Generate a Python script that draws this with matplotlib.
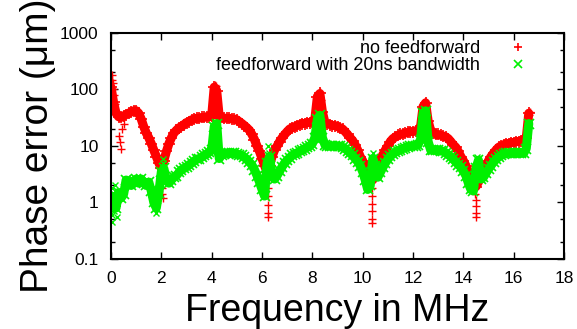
import numpy as np
import matplotlib
matplotlib.use("Agg")
import matplotlib.pyplot as plt
from matplotlib.ticker import LogLocator, FixedLocator, NullFormatter

plt.rcParams['font.family'] = ['Liberation Sans', 'DejaVu Sans']

# frequency grid of the sweep, MHz
freq = np.round(np.arange(0, 167) * 0.1, 1)

# phase error without feedforward, um
err_no_ff = [
    110, 60, 38, 33, 32, 34, 36, 38, 40, 42,
    42, 38, 30, 22, 17, 14, 11, 8.5, 6.5, 5.0,
    4.0, 5.5, 8, 11, 14, 17, 19, 21, 22, 24,
    26, 27, 29, 30, 31, 31, 32, 32, 33, 33,
    34, 110, 95, 33, 32, 31, 31, 31, 30, 30,
    29, 27, 25, 23, 21, 19, 16, 13, 10, 8,
    6, 4.5, 3.5, 4.5, 6.5, 8.5, 10, 12, 14, 16,
    18, 20, 21, 22, 23, 24, 25, 25, 26, 26,
    27, 30, 75, 85, 40, 26, 25, 24, 23, 23,
    22, 21, 20, 18, 16, 14, 12.5, 10.5, 8.5, 6.5,
    5.5, 4.2, 3.3, 2.6, 2.5, 3.5, 4.5, 5.8, 7, 8.5,
    10, 12, 13.5, 14.5, 15.5, 16, 16.5, 17, 17.5, 18,
    18, 18.5, 19, 22, 50, 58, 28, 19, 17, 16,
    16, 15.5, 15, 14.5, 13.5, 12, 10.5, 9.5, 8, 6.5,
    5.5, 4.5, 3.5, 2.8, 2.2, 1.9, 2.3, 3, 3.7, 4.5,
    5.5, 6.5, 7.5, 8.5, 9.5, 10, 10.5, 11, 11, 11.5,
    11.5, 12, 12, 12.5, 13, 14, 38,
]

# phase error with 20ns feedforward, um
err_ff = [
    0.9, 1.2, 0.8, 1.5, 1.2, 1.4, 2.5, 2.2, 2.0, 2.4,
    2.6, 2.2, 2.6, 2.2, 2.0, 2.3, 1.6, 1.0, 0.8, 1.5,
    3.5, 4.0, 2.5, 2.2, 2.5, 2.8, 3.0, 3.4, 3.8, 4.0,
    4.3, 4.6, 5.0, 5.4, 5.8, 6.0, 6.3, 6.8, 7.2, 7.8,
    8.5, 22, 25, 6, 7, 7.3, 7.5, 7.5, 7.5, 7.4,
    7.2, 7.0, 6.8, 6.3, 5.8, 5.2, 4.6, 3.8, 3.0, 2.3,
    1.7, 1.3, 5, 6.5, 3.0, 2.6, 3.0, 3.6, 4.3, 5.0,
    5.6, 6.2, 6.8, 7.2, 7.6, 8.0, 8.5, 9.0, 9.5, 10,
    11, 14, 30, 35, 14, 10.5, 10, 10, 10, 10,
    10, 9.8, 9.5, 9.0, 8.3, 7.5, 6.8, 6.0, 5.3, 4.5,
    3.5, 2.5, 1.7, 2.0, 6.0, 4.5, 2.8, 3.4, 4.2, 5.0,
    5.8, 6.6, 7.2, 7.8, 8.2, 8.6, 9.0, 9.4, 9.7, 10,
    10, 10.2, 10.5, 13, 38, 42, 12, 8.5, 8.5, 8.5,
    8.5, 8.3, 8.0, 7.6, 7.0, 6.5, 5.8, 5.2, 4.7, 4.2,
    3.6, 3.0, 2.2, 1.7, 1.6, 4.0, 5.6, 2.6, 2.8, 3.3,
    3.9, 4.5, 5.2, 5.8, 6.4, 6.8, 7.2, 7.4, 7.5, 7.5,
    7.6, 7.6, 7.5, 7.4, 7.5, 9, 25,
]

# spikes, drop-outs and scatter that sit off the main trace
extra_no_ff_f = [0.02, 0.04, 0.06, 0.08, 0.12, 0.15, 0.3, 0.35, 0.4, 0.45, 0.5,
                 2.0, 2.02, 2.02, 2.04, 2.05,
                 4.08, 4.1, 4.12, 4.14, 4.16, 4.18, 4.22, 4.25,
                 6.2, 6.22, 6.22, 6.22, 6.22, 6.24,
                 8.22, 8.25, 8.28, 8.32, 8.35, 8.38,
                 10.36, 10.37, 10.37, 10.37, 10.38, 10.38,
                 12.38, 12.42, 12.46, 12.5, 12.54,
                 14.48, 14.5, 14.5, 14.5, 14.52,
                 16.55, 16.58, 16.62, 16.65]
extra_no_ff_v = [180, 150, 130, 100, 80, 55, 15, 12, 9, 20, 25,
                 3, 2.3, 1.8, 1.4, 1.2,
                 45, 70, 95, 120, 115, 80, 55, 40,
                 2.5, 1.8, 1.3, 0.9, 0.65, 0.55,
                 40, 60, 80, 90, 65, 35,
                 1.8, 1.3, 0.95, 0.7, 0.52, 0.43,
                 30, 45, 60, 50, 30,
                 1.4, 1.1, 0.85, 0.65, 0.55,
                 25, 30, 35, 40]
extra_ff_f = [0.02, 0.03, 0.05, 0.07, 0.1, 0.15, 0.2, 0.25,
              1.8, 1.75, 2.05, 2.08,
              4.08, 4.1, 4.12, 4.14, 4.16, 4.18,
              6.25, 6.28,
              8.22, 8.25, 8.28, 8.32, 8.35,
              10.42, 10.45,
              12.4, 12.42, 12.45, 12.48, 12.52,
              14.55, 14.6,
              16.5, 16.55, 16.58, 16.62]
extra_ff_v = [0.45, 1.8, 0.6, 1.5, 0.7, 2.0, 1.0, 0.55,
              0.65, 1.1, 5, 6,
              10, 14, 18, 26, 20, 12,
              10, 7.5,
              15, 22, 30, 28, 18,
              7.5, 5,
              18, 25, 35, 30, 16,
              6.5, 4.5,
              12, 16, 20, 24]

fig = plt.figure(figsize=(5.77, 3.29), dpi=100)
ax = fig.add_axes([0.1924, 0.2128, 0.7851, 0.6869])

red = '#ff0000'
green = '#00f000'

# dense sweep: a thick trace under the point markers gives the solid band
ax.plot(freq, err_no_ff, '-', color=red, lw=6.5, solid_capstyle='round',
        solid_joinstyle='round')
ax.plot(freq, err_no_ff, '+', color=red, ms=8, mew=1.2, label='no feedforward')
ax.plot(extra_no_ff_f, extra_no_ff_v, '+', color=red, ms=6, mew=1.0)
ax.plot(freq, err_ff, '-', color=green, lw=6.5, solid_capstyle='round',
        solid_joinstyle='round')
ax.plot(freq, err_ff, 'x', color=green, ms=6.5, mew=1.2,
        label='feedforward with 20ns bandwidth')
ax.plot(extra_ff_f, extra_ff_v, 'x', color=green, ms=5, mew=1.0)

ax.set_yscale('log')
ax.set_ylim(0.1, 1000)
ax.set_xlim(0, 18)
ax.xaxis.set_major_locator(FixedLocator(np.arange(0, 19, 2)))
ax.yaxis.set_major_locator(FixedLocator([0.1, 1, 10, 100, 1000]))
ax.yaxis.set_minor_locator(LogLocator(base=10, subs=(2, 5)))
ax.yaxis.set_minor_formatter(NullFormatter())
ax.set_yticklabels(['0.1', '1', '10', '100', '1000'])

ax.tick_params(which='both', direction='in', top=True, right=True,
               labelsize=12.5, width=1.0)
ax.tick_params(which='major', length=5, pad=9)
ax.tick_params(which='minor', length=3)
for s in ax.spines.values():
    s.set_linewidth(1.5)

ax.set_xlabel('Frequency in MHz', fontsize=27, labelpad=5)
ax.set_ylabel('Phase error (\u03bcm)', fontsize=28, labelpad=3)

leg = ax.legend(loc='upper right', frameon=False, markerfirst=False, fontsize=13,
                handletextpad=1.1, labelspacing=0.0, borderaxespad=0.0,
                borderpad=0.0, bbox_to_anchor=(0.938, 0.969))
for h in leg.legend_handles:
    h.set_markersize(6)

fig.savefig('out.png', dpi=100)
